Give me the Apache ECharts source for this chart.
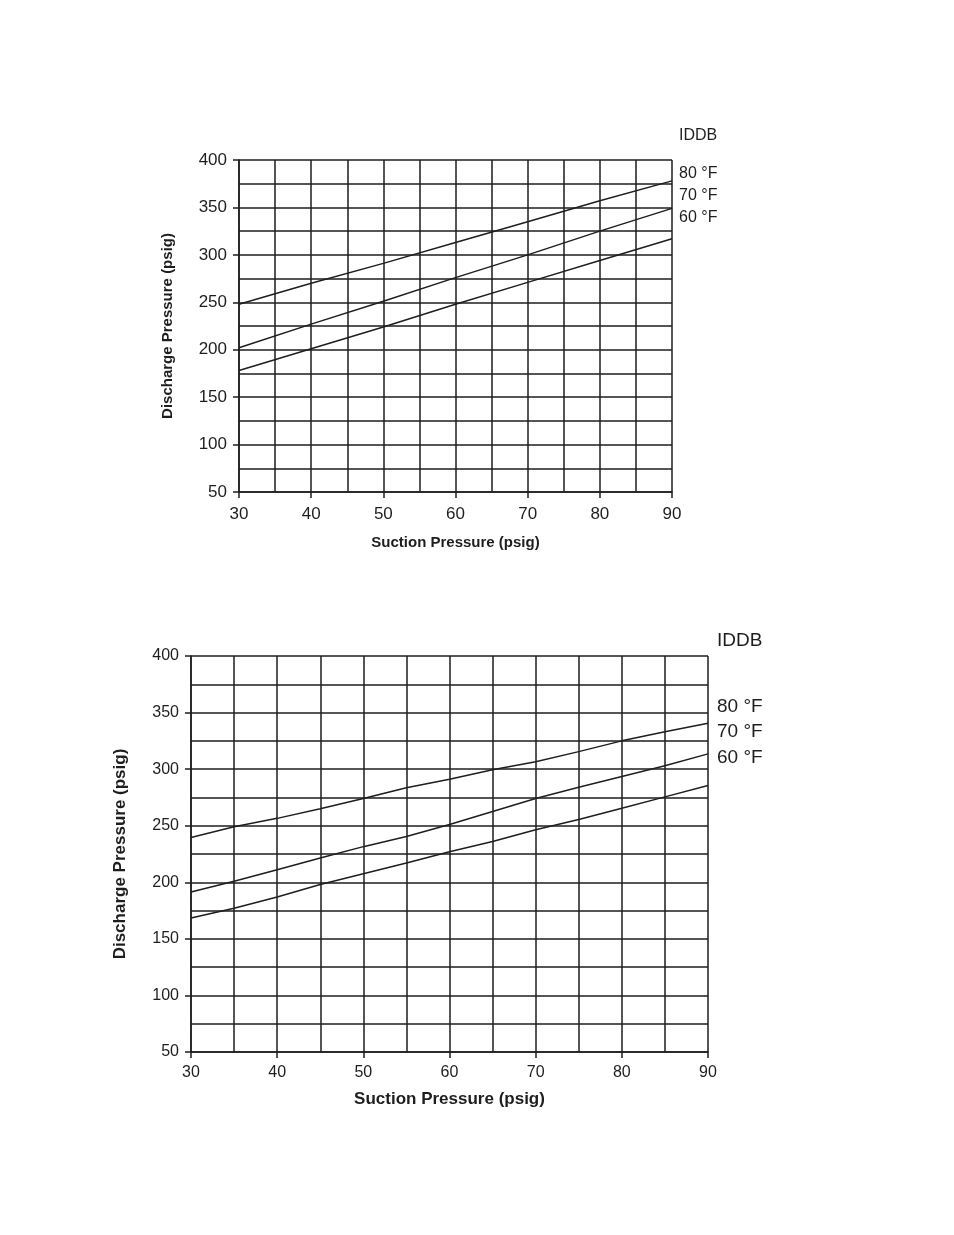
<!DOCTYPE html>
<html>
<head>
<meta charset="utf-8">
<script src="https://cdn.jsdelivr.net/npm/echarts@6/dist/echarts.min.js"></script>
<style>
  html, body { margin: 0; padding: 0; background: #fff; }
  #chart { width: 954px; height: 1235px; }
</style>
</head>
<body>
<div id="chart"></div>
<script>
// ---- Data ----
const seriesNames = ['80 °F', '70 °F', '60 °F'];
const legendTitle = 'IDDB';
const xName = 'Suction Pressure (psig)';
const yName = 'Discharge Pressure (psig)';

// Top chart (straight lines)
const topX = [30, 40, 50, 60, 70, 80, 90];
const top80 = [248, 270, 291, 313, 335, 357, 378];
const top70 = [202, 227, 251, 276, 300, 325, 349];
const top60 = [178, 201, 224, 248, 271, 294, 317];

// Bottom chart
const botX = [30, 35, 40, 45, 50, 55, 60, 65, 70, 75, 80, 85, 90];
const bot80 = [239.5, 249, 256.5, 265, 274, 283.5, 291, 299.5, 306.5, 315.5, 325, 333, 340.5];
const bot70 = [191.5, 201, 211, 221.5, 231.5, 240.5, 251, 262.5, 274, 284, 293.5, 303, 313.5];
const bot60 = [168.5, 177, 187, 198, 207.5, 217, 227, 236, 246.5, 255.5, 265.5, 275.5, 285.5];

const xTicks = { min: 30, max: 90, interval: 10 };
const yTicks = { min: 50, max: 400, interval: 50 };

// ---- Build ----
const FONT = 'Liberation Sans, Arial, sans-serif';
const INK = '#1e1e1e';
const pair = (xs, ys) => xs.map((x, i) => [x, ys[i]]);

function xAxisCfg(gridIndex, labelSize, nameSize, nameGap, margin) {
  return {
    gridIndex, type: 'value', min: xTicks.min, max: xTicks.max, interval: xTicks.interval,
    name: xName, nameLocation: 'middle', nameGap,
    nameTextStyle: { fontFamily: FONT, fontWeight: 'bold', fontSize: nameSize, color: INK },
    axisLine: { show: true, lineStyle: { color: INK, width: 1.5 } },
    axisTick: { show: true, length: 6, inside: false, lineStyle: { color: INK, width: 1.5 } },
    axisLabel: { fontFamily: FONT, fontSize: labelSize, color: INK, margin },
    splitLine: { show: true, lineStyle: { color: INK, width: 1.5 } },
    minorTick: { show: false, splitNumber: 2 },
    minorSplitLine: { show: true, lineStyle: { color: INK, width: 1.5 } }
  };
}
function yAxisCfg(gridIndex, labelSize, nameSize, nameGap) {
  return {
    gridIndex, type: 'value', min: yTicks.min, max: yTicks.max, interval: yTicks.interval,
    name: yName, nameLocation: 'middle', nameGap,
    nameTextStyle: { fontFamily: FONT, fontWeight: 'bold', fontSize: nameSize, color: INK },
    axisLine: { show: true, lineStyle: { color: INK, width: 1.5 } },
    axisTick: { show: true, length: 6, inside: false, lineStyle: { color: INK, width: 1.5 } },
    axisLabel: { fontFamily: FONT, fontSize: labelSize, color: INK, margin: 12 },
    splitLine: { show: true, lineStyle: { color: INK, width: 1.5 } },
    minorTick: { show: false, splitNumber: 2 },
    minorSplitLine: { show: true, lineStyle: { color: INK, width: 1.5 } }
  };
}
function lineSeries(name, data, idx) {
  return {
    name, type: 'line', xAxisIndex: idx, yAxisIndex: idx, data,
    showSymbol: false, symbol: 'none', silent: true,
    lineStyle: { color: INK, width: 1.5 }, z: 5
  };
}

const topSets = [top80, top70, top60];
const botSets = [bot80, bot70, bot60];

const graphics = [];
function legendTexts(left, titleTop, firstTop, step, size) {
  graphics.push({ type: 'text', left, top: titleTop,
    style: { text: legendTitle, font: size + 'px ' + FONT, fill: INK } });
  seriesNames.forEach((n, i) => graphics.push({ type: 'text', left, top: firstTop + i * step,
    style: { text: n, font: size + 'px ' + FONT, fill: INK } }));
}
legendTexts(679, 128, 166, 22, 16);
legendTexts(717, 631, 697, 25.5, 19);

const option = {
  animation: false,
  backgroundColor: '#fff',
  grid: [
    { left: 239, top: 160, width: 433, height: 332, containLabel: false },
    { left: 191, top: 656, width: 517, height: 396, containLabel: false }
  ],
  xAxis: [xAxisCfg(0, 17, 15, 43, 14), xAxisCfg(1, 16, 17, 39, 13)],
  yAxis: [yAxisCfg(0, 17, 15, 64), yAxisCfg(1, 16, 17, 62)],
  series: [
    ...seriesNames.map((n, i) => lineSeries(n, pair(topX, topSets[i]), 0)),
    ...seriesNames.map((n, i) => lineSeries(n, pair(botX, botSets[i]), 1))
  ],
  graphic: graphics
};

const chart = echarts.init(document.getElementById('chart'), null, { renderer: 'canvas' });
chart.setOption(option);
</script>
</body>
</html>
